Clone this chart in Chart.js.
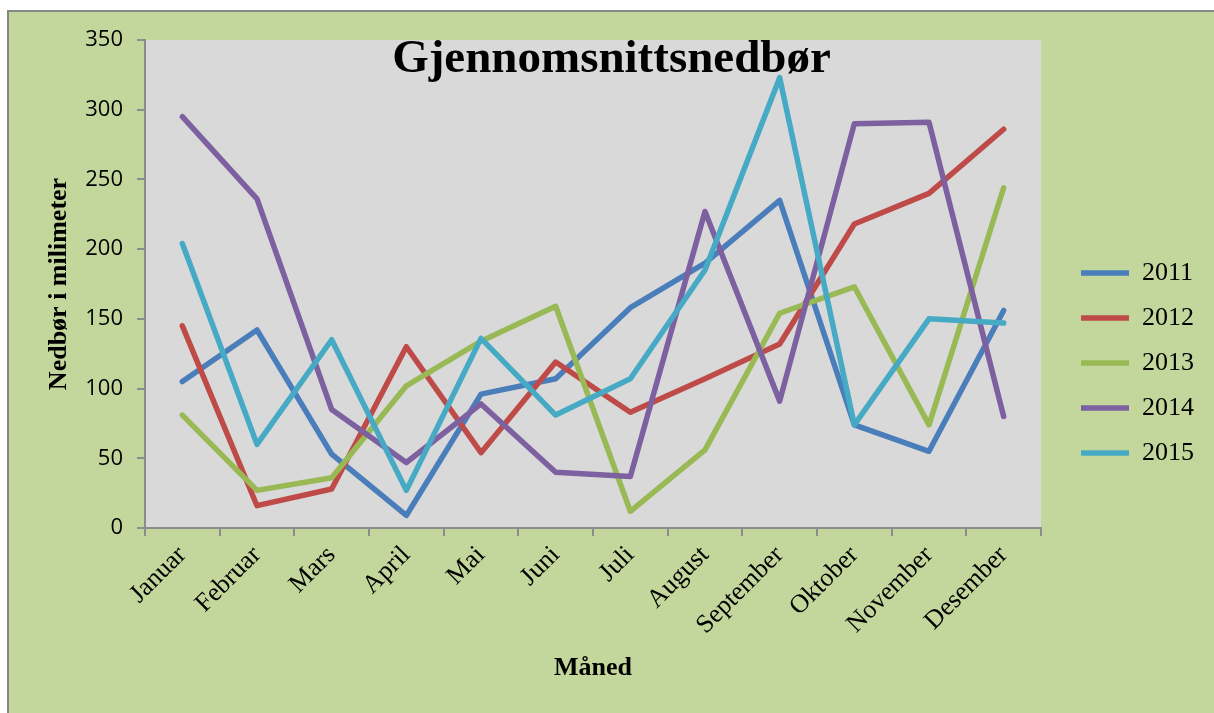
<!DOCTYPE html>
<html>
<head>
<meta charset="utf-8">
<title>Gjennomsnittsnedbør</title>
<script src="https://cdn.jsdelivr.net/npm/chart.js@4"></script>
<style>
    html, body { margin: 0; padding: 0; background: #ffffff; }
    #frame {
        position: absolute; left: 7px; top: 10px; width: 1220px; height: 720px;
        background: #c3d69b;
        border-left: 2px solid #878787;
        border-top: 2px solid #878787;
    }
    #wrap { position: absolute; left: 0; top: 0; width: 1214px; height: 713px; }
    #chartTitle {
        position: absolute; left: 0; top: 33px; width: 1223px;
        text-align: center;
        font: bold 47px "Liberation Serif", "Times New Roman", serif;
        line-height: 47px;
        color: #000;
        pointer-events: none;
    }
</style>
</head>
<body>
<div id="frame"></div>
<div id="wrap"><canvas id="rainChart" width="1214" height="713"></canvas></div>
<div id="chartTitle">Gjennomsnittsnedbør</div>

<script>
// Months (x axis)
const months = ['Januar', 'Februar', 'Mars', 'April', 'Mai', 'Juni', 'Juli',
    'August', 'September', 'Oktober', 'November', 'Desember'];

// Precipitation in mm per year
const rain2011 = [105, 142, 53, 9, 96, 107, 158, 190, 235, 74, 55, 156];
const rain2012 = [145, 16, 28, 130, 54, 119, 83, 107, 132, 218, 240, 286];
const rain2013 = [81, 27, 36, 102, 134, 159, 12, 56, 154, 173, 74, 244];
const rain2014 = [295, 236, 85, 47, 89, 40, 37, 227, 91, 290, 291, 80];
const rain2015 = [204, 60, 135, 27, 136, 81, 107, 185, 323, 74, 150, 147];

const years = ['2011', '2012', '2013', '2014', '2015'];
const yTicks = [0, 50, 100, 150, 200, 250, 300, 350];

// Series colors
const COLORS = ['#4a7ebb', '#be4b48', '#98b954', '#7d60a0', '#46aac5'];

const AXIS_GREY = '#8c8c8c';
const SERIF = '"Liberation Serif", "Times New Roman", serif';

// Fill plot area grey
const plotBackground = {
    id: 'plotBackground',
    beforeDraw(chart) {
        const {ctx, chartArea} = chart;
        ctx.save();
        ctx.fillStyle = '#d9d9d9';
        ctx.fillRect(chartArea.left, chartArea.top, chartArea.width, chartArea.height);
        ctx.restore();
    }
};

const series = [rain2011, rain2012, rain2013, rain2014, rain2015];

// later years drawn on top, like the original
const datasets = series.map((values, i) => ({
    label: years[i],
    data: values,
    borderColor: COLORS[i],
    backgroundColor: COLORS[i],
    borderWidth: 5.5,
    borderCapStyle: 'round',
    borderJoinStyle: 'round',
    pointRadius: 0,
    tension: 0,
    order: series.length - i
}));

new Chart(document.getElementById('rainChart'), {
    type: 'line',
    data: { labels: months, datasets: datasets },
    plugins: [plotBackground],
    options: {
        responsive: false,
        animation: false,
        layout: { padding: { top: 40, left: 0, bottom: 0, right: 10 } },
        plugins: {
            tooltip: { enabled: false },
            legend: {
                position: 'right',
                align: 'start',
                fullSize: false,
                title: {
                    display: true,
                    text: ' ',
                    font: { size: 10, lineHeight: 1 },
                    padding: { top: 191, bottom: 0 }
                },
                labels: {
                    usePointStyle: true,
                    pointStyle: 'line',
                    pointStyleWidth: 48,
                    boxHeight: 5,
                    padding: 19,
                    color: '#000',
                    font: { family: SERIF, size: 26 },
                    sort: (a, b) => a.datasetIndex - b.datasetIndex
                }
            }
        },
        scales: {
            x: {
                type: 'category',
                offset: true,
                afterFit: (scale) => { scale.height = 185; },
                grid: {
                    offset: true,
                    drawOnChartArea: false,
                    tickLength: 8,
                    color: AXIS_GREY,
                    lineWidth: 2
                },
                border: { color: AXIS_GREY, width: 2 },
                ticks: {
                    minRotation: 45,
                    maxRotation: 45,
                    padding: 4,
                    color: '#000',
                    font: { family: SERIF, size: 26 }
                },
                title: {
                    display: true,
                    text: 'Måned',
                    color: '#000',
                    font: { family: SERIF, size: 26, weight: 'bold' },
                    padding: { top: 0, bottom: 29 }
                }
            },
            y: {
                min: 0,
                max: 350,
                afterFit: (scale) => { scale.width = 145; },
                afterBuildTicks: (scale) => { scale.ticks = yTicks.map(v => ({ value: v })); },
                grid: {
                    drawOnChartArea: false,
                    tickLength: 8,
                    color: AXIS_GREY,
                    lineWidth: 2
                },
                border: { color: AXIS_GREY, width: 2 },
                ticks: {
                    padding: 14,
                    color: '#000',
                    font: { family: '"Open Sans", sans-serif', size: 22 }
                },
                title: {
                    display: true,
                    text: 'Nedbør i milimeter',
                    color: '#000',
                    font: { family: SERIF, size: 26, weight: 'bold' },
                    padding: { top: 44, bottom: 0 }
                }
            },
            // spacer between plot area and legend
            gap: {
                type: 'linear',
                position: 'right',
                display: true,
                afterFit: (scale) => { scale.width = 21; },
                grid: { display: false, drawTicks: false },
                border: { display: false },
                ticks: { display: false }
            }
        }
    }
});
</script>
</body>
</html>
